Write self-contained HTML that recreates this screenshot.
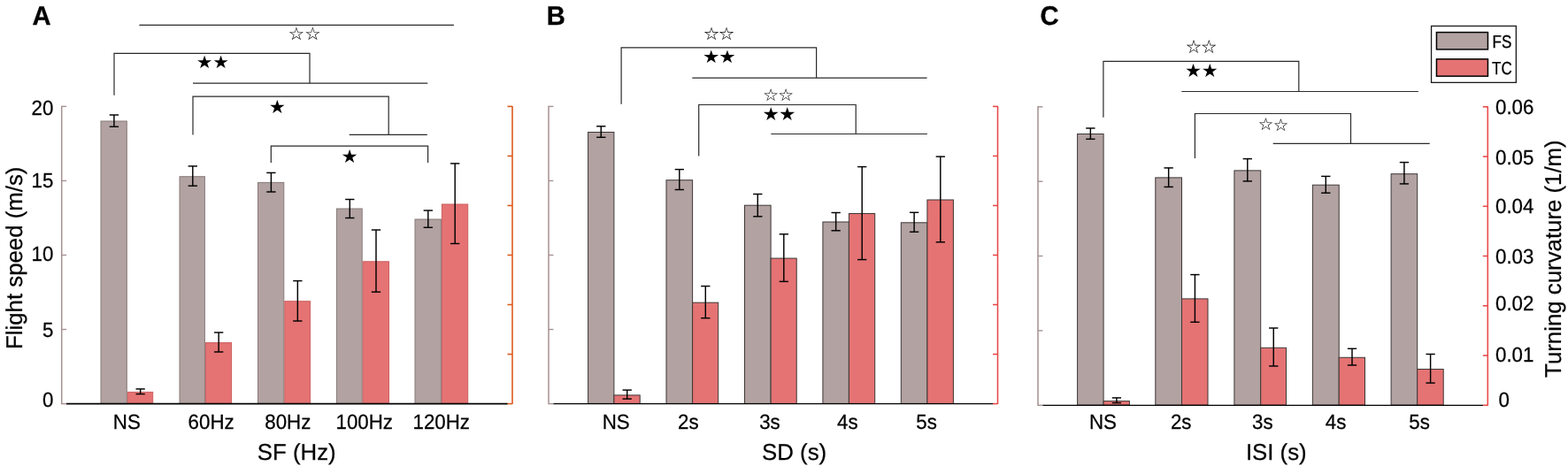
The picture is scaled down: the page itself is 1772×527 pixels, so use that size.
<!DOCTYPE html>
<html lang="en"><head><meta charset="utf-8"><title>Flight speed and turning curvature</title>
<style>html,body{margin:0;padding:0;background:#fff;}body{width:1772px;height:527px;overflow:hidden;}svg{display:block;}text{font-family:"Liberation Sans",sans-serif;fill:#000;text-rendering:geometricPrecision;}.st{font-family:"Noto Sans CJK JP","DejaVu Sans",sans-serif;}</style>
</head><body>
<svg width="1772" height="527" viewBox="0 0 1772 527">
<rect x="0" y="0" width="1772" height="527" fill="#ffffff"/>
<rect x="114.00" y="137.00" width="29.30" height="319.40" fill="#b2a2a1" stroke="#867b7a" stroke-width="1"/>
<rect x="144.30" y="443.40" width="28.40" height="13.00" fill="#e57373" stroke="#cc5e5e" stroke-width="1"/>
<rect x="203.00" y="199.70" width="28.40" height="256.70" fill="#b2a2a1" stroke="#867b7a" stroke-width="1"/>
<rect x="232.40" y="387.60" width="29.20" height="68.80" fill="#e57373" stroke="#cc5e5e" stroke-width="1"/>
<rect x="291.50" y="206.40" width="29.30" height="250.00" fill="#b2a2a1" stroke="#867b7a" stroke-width="1"/>
<rect x="321.80" y="340.70" width="28.80" height="115.70" fill="#e57373" stroke="#cc5e5e" stroke-width="1"/>
<rect x="380.40" y="236.00" width="28.80" height="220.40" fill="#b2a2a1" stroke="#867b7a" stroke-width="1"/>
<rect x="410.20" y="295.80" width="29.30" height="160.60" fill="#e57373" stroke="#cc5e5e" stroke-width="1"/>
<rect x="469.00" y="248.00" width="29.40" height="208.40" fill="#b2a2a1" stroke="#867b7a" stroke-width="1"/>
<rect x="499.40" y="231.00" width="29.30" height="225.40" fill="#e57373" stroke="#cc5e5e" stroke-width="1"/>
<line x1="128.90" y1="130.00" x2="128.90" y2="143.30" stroke="#000" stroke-width="1.45" />
<line x1="123.75" y1="130.00" x2="134.05" y2="130.00" stroke="#000" stroke-width="1.45" />
<line x1="123.75" y1="143.30" x2="134.05" y2="143.30" stroke="#000" stroke-width="1.45" />
<line x1="158.65" y1="439.90" x2="158.65" y2="445.60" stroke="#000" stroke-width="1.45" />
<line x1="153.50" y1="439.90" x2="163.80" y2="439.90" stroke="#000" stroke-width="1.45" />
<line x1="153.50" y1="445.60" x2="163.80" y2="445.60" stroke="#000" stroke-width="1.45" />
<line x1="217.80" y1="187.90" x2="217.80" y2="210.20" stroke="#000" stroke-width="1.45" />
<line x1="212.65" y1="187.90" x2="222.95" y2="187.90" stroke="#000" stroke-width="1.45" />
<line x1="212.65" y1="210.20" x2="222.95" y2="210.20" stroke="#000" stroke-width="1.45" />
<line x1="247.15" y1="376.00" x2="247.15" y2="398.00" stroke="#000" stroke-width="1.45" />
<line x1="242.00" y1="376.00" x2="252.30" y2="376.00" stroke="#000" stroke-width="1.45" />
<line x1="242.00" y1="398.00" x2="252.30" y2="398.00" stroke="#000" stroke-width="1.45" />
<line x1="306.40" y1="195.40" x2="306.40" y2="217.00" stroke="#000" stroke-width="1.45" />
<line x1="301.25" y1="195.40" x2="311.55" y2="195.40" stroke="#000" stroke-width="1.45" />
<line x1="301.25" y1="217.00" x2="311.55" y2="217.00" stroke="#000" stroke-width="1.45" />
<line x1="336.35" y1="317.60" x2="336.35" y2="363.00" stroke="#000" stroke-width="1.45" />
<line x1="331.20" y1="317.60" x2="341.50" y2="317.60" stroke="#000" stroke-width="1.45" />
<line x1="331.20" y1="363.00" x2="341.50" y2="363.00" stroke="#000" stroke-width="1.45" />
<line x1="395.30" y1="225.50" x2="395.30" y2="246.50" stroke="#000" stroke-width="1.45" />
<line x1="390.15" y1="225.50" x2="400.45" y2="225.50" stroke="#000" stroke-width="1.45" />
<line x1="390.15" y1="246.50" x2="400.45" y2="246.50" stroke="#000" stroke-width="1.45" />
<line x1="425.00" y1="260.00" x2="425.00" y2="330.20" stroke="#000" stroke-width="1.45" />
<line x1="419.85" y1="260.00" x2="430.15" y2="260.00" stroke="#000" stroke-width="1.45" />
<line x1="419.85" y1="330.20" x2="430.15" y2="330.20" stroke="#000" stroke-width="1.45" />
<line x1="483.80" y1="238.00" x2="483.80" y2="257.30" stroke="#000" stroke-width="1.45" />
<line x1="478.65" y1="238.00" x2="488.95" y2="238.00" stroke="#000" stroke-width="1.45" />
<line x1="478.65" y1="257.30" x2="488.95" y2="257.30" stroke="#000" stroke-width="1.45" />
<line x1="514.20" y1="184.90" x2="514.20" y2="275.50" stroke="#000" stroke-width="1.45" />
<line x1="509.05" y1="184.90" x2="519.35" y2="184.90" stroke="#000" stroke-width="1.45" />
<line x1="509.05" y1="275.50" x2="519.35" y2="275.50" stroke="#000" stroke-width="1.45" />
<line x1="74.90" y1="456.60" x2="573.80" y2="456.60" stroke="#000" stroke-width="1.9" />
<line x1="69.70" y1="119.70" x2="69.70" y2="457.30" stroke="#a69191" stroke-width="1.5" />
<line x1="69.70" y1="120.40" x2="75.10" y2="120.40" stroke="#a69191" stroke-width="1.4" />
<line x1="69.70" y1="204.45" x2="75.10" y2="204.45" stroke="#a69191" stroke-width="1.4" />
<line x1="69.70" y1="288.50" x2="75.10" y2="288.50" stroke="#a69191" stroke-width="1.4" />
<line x1="69.70" y1="372.55" x2="75.10" y2="372.55" stroke="#a69191" stroke-width="1.4" />
<line x1="69.70" y1="456.60" x2="75.10" y2="456.60" stroke="#a69191" stroke-width="1.4" />
<line x1="579.00" y1="119.90" x2="579.00" y2="457.10" stroke="#dc5a1e" stroke-width="1.6" />
<line x1="573.50" y1="120.40" x2="579.00" y2="120.40" stroke="#dc5a1e" stroke-width="1.6" />
<line x1="573.50" y1="176.43" x2="579.00" y2="176.43" stroke="#dc5a1e" stroke-width="1.6" />
<line x1="573.50" y1="232.47" x2="579.00" y2="232.47" stroke="#dc5a1e" stroke-width="1.6" />
<line x1="573.50" y1="288.50" x2="579.00" y2="288.50" stroke="#dc5a1e" stroke-width="1.6" />
<line x1="573.50" y1="344.53" x2="579.00" y2="344.53" stroke="#dc5a1e" stroke-width="1.6" />
<line x1="573.50" y1="400.57" x2="579.00" y2="400.57" stroke="#dc5a1e" stroke-width="1.6" />
<line x1="573.50" y1="456.60" x2="579.00" y2="456.60" stroke="#dc5a1e" stroke-width="1.6" />
<text transform="matrix(1 0.0003 0 1.05 127.80 485.10)" font-size="22.3" stroke="#000" stroke-width="0.25">NS</text>
<text transform="matrix(1 0.0003 0 1.05 212.60 485.10)" font-size="22.3" stroke="#000" stroke-width="0.25">60Hz</text>
<text transform="matrix(1 0.0003 0 1.05 299.30 485.10)" font-size="22.3" stroke="#000" stroke-width="0.25">80Hz</text>
<text transform="matrix(1 0.0003 0 1.05 379.50 485.10)" font-size="22.3" stroke="#000" stroke-width="0.25">100Hz</text>
<text transform="matrix(1 0.0003 0 1.05 466.50 485.10)" font-size="22.3" stroke="#000" stroke-width="0.25">120Hz</text>
<text transform="matrix(1 0.0003 0 1.0 290.80 519.50)" font-size="25.8" stroke="#000" stroke-width="0.25">SF (Hz)</text>
<text transform="matrix(1 0.0003 0 1.03 36.50 28.10)" font-size="29.2" font-weight="bold" stroke="#000" stroke-width="0.3">A</text>
<rect x="664.60" y="149.50" width="29.30" height="306.90" fill="#b2a2a1" stroke="#3c3737" stroke-width="1"/>
<rect x="693.90" y="446.90" width="29.30" height="9.50" fill="#e57373" stroke="#3c3737" stroke-width="1"/>
<rect x="753.00" y="203.70" width="29.60" height="252.70" fill="#b2a2a1" stroke="#3c3737" stroke-width="1"/>
<rect x="782.60" y="342.20" width="29.10" height="114.20" fill="#e57373" stroke="#3c3737" stroke-width="1"/>
<rect x="841.50" y="232.20" width="29.60" height="224.20" fill="#b2a2a1" stroke="#3c3737" stroke-width="1"/>
<rect x="871.10" y="292.10" width="29.10" height="164.30" fill="#e57373" stroke="#3c3737" stroke-width="1"/>
<rect x="929.90" y="251.00" width="29.50" height="205.40" fill="#b2a2a1" stroke="#3c3737" stroke-width="1"/>
<rect x="959.40" y="241.50" width="29.30" height="214.90" fill="#e57373" stroke="#3c3737" stroke-width="1"/>
<rect x="1018.30" y="251.80" width="29.60" height="204.60" fill="#b2a2a1" stroke="#3c3737" stroke-width="1"/>
<rect x="1047.90" y="226.00" width="29.50" height="230.40" fill="#e57373" stroke="#3c3737" stroke-width="1"/>
<line x1="679.25" y1="142.80" x2="679.25" y2="155.30" stroke="#000" stroke-width="1.45" />
<line x1="674.10" y1="142.80" x2="684.40" y2="142.80" stroke="#000" stroke-width="1.45" />
<line x1="674.10" y1="155.30" x2="684.40" y2="155.30" stroke="#000" stroke-width="1.45" />
<line x1="708.70" y1="441.10" x2="708.70" y2="451.10" stroke="#000" stroke-width="1.45" />
<line x1="703.55" y1="441.10" x2="713.85" y2="441.10" stroke="#000" stroke-width="1.45" />
<line x1="703.55" y1="451.10" x2="713.85" y2="451.10" stroke="#000" stroke-width="1.45" />
<line x1="767.80" y1="191.60" x2="767.80" y2="214.50" stroke="#000" stroke-width="1.45" />
<line x1="762.65" y1="191.60" x2="772.95" y2="191.60" stroke="#000" stroke-width="1.45" />
<line x1="762.65" y1="214.50" x2="772.95" y2="214.50" stroke="#000" stroke-width="1.45" />
<line x1="797.30" y1="323.60" x2="797.30" y2="359.70" stroke="#000" stroke-width="1.45" />
<line x1="792.15" y1="323.60" x2="802.45" y2="323.60" stroke="#000" stroke-width="1.45" />
<line x1="792.15" y1="359.70" x2="802.45" y2="359.70" stroke="#000" stroke-width="1.45" />
<line x1="856.30" y1="219.50" x2="856.30" y2="244.80" stroke="#000" stroke-width="1.45" />
<line x1="851.15" y1="219.50" x2="861.45" y2="219.50" stroke="#000" stroke-width="1.45" />
<line x1="851.15" y1="244.80" x2="861.45" y2="244.80" stroke="#000" stroke-width="1.45" />
<line x1="885.80" y1="264.80" x2="885.80" y2="318.40" stroke="#000" stroke-width="1.45" />
<line x1="880.65" y1="264.80" x2="890.95" y2="264.80" stroke="#000" stroke-width="1.45" />
<line x1="880.65" y1="318.40" x2="890.95" y2="318.40" stroke="#000" stroke-width="1.45" />
<line x1="944.65" y1="240.50" x2="944.65" y2="260.80" stroke="#000" stroke-width="1.45" />
<line x1="939.50" y1="240.50" x2="949.80" y2="240.50" stroke="#000" stroke-width="1.45" />
<line x1="939.50" y1="260.80" x2="949.80" y2="260.80" stroke="#000" stroke-width="1.45" />
<line x1="974.20" y1="188.60" x2="974.20" y2="293.60" stroke="#000" stroke-width="1.45" />
<line x1="969.05" y1="188.60" x2="979.35" y2="188.60" stroke="#000" stroke-width="1.45" />
<line x1="969.05" y1="293.60" x2="979.35" y2="293.60" stroke="#000" stroke-width="1.45" />
<line x1="1033.10" y1="240.30" x2="1033.10" y2="262.30" stroke="#000" stroke-width="1.45" />
<line x1="1027.95" y1="240.30" x2="1038.25" y2="240.30" stroke="#000" stroke-width="1.45" />
<line x1="1027.95" y1="262.30" x2="1038.25" y2="262.30" stroke="#000" stroke-width="1.45" />
<line x1="1062.80" y1="177.10" x2="1062.80" y2="273.80" stroke="#000" stroke-width="1.45" />
<line x1="1057.65" y1="177.10" x2="1067.95" y2="177.10" stroke="#000" stroke-width="1.45" />
<line x1="1057.65" y1="273.80" x2="1067.95" y2="273.80" stroke="#000" stroke-width="1.45" />
<line x1="625.20" y1="456.60" x2="1122.30" y2="456.60" stroke="#000" stroke-width="1.4" />
<line x1="620.00" y1="119.70" x2="620.00" y2="457.30" stroke="#a69191" stroke-width="1.5" />
<line x1="620.00" y1="120.40" x2="625.40" y2="120.40" stroke="#a69191" stroke-width="1.4" />
<line x1="620.00" y1="204.45" x2="625.40" y2="204.45" stroke="#a69191" stroke-width="1.4" />
<line x1="620.00" y1="288.50" x2="625.40" y2="288.50" stroke="#a69191" stroke-width="1.4" />
<line x1="620.00" y1="372.55" x2="625.40" y2="372.55" stroke="#a69191" stroke-width="1.4" />
<line x1="620.00" y1="456.60" x2="625.40" y2="456.60" stroke="#a69191" stroke-width="1.4" />
<line x1="1127.50" y1="119.90" x2="1127.50" y2="457.10" stroke="#e84848" stroke-width="1.55" />
<line x1="1122.00" y1="120.40" x2="1127.50" y2="120.40" stroke="#e84848" stroke-width="1.55" />
<line x1="1122.00" y1="176.43" x2="1127.50" y2="176.43" stroke="#e84848" stroke-width="1.55" />
<line x1="1122.00" y1="232.47" x2="1127.50" y2="232.47" stroke="#e84848" stroke-width="1.55" />
<line x1="1122.00" y1="288.50" x2="1127.50" y2="288.50" stroke="#e84848" stroke-width="1.55" />
<line x1="1122.00" y1="344.53" x2="1127.50" y2="344.53" stroke="#e84848" stroke-width="1.55" />
<line x1="1122.00" y1="400.57" x2="1127.50" y2="400.57" stroke="#e84848" stroke-width="1.55" />
<line x1="1122.00" y1="456.60" x2="1127.50" y2="456.60" stroke="#e84848" stroke-width="1.55" />
<text transform="matrix(1 0.0003 0 1.05 680.70 485.10)" font-size="22.3" stroke="#000" stroke-width="0.25">NS</text>
<text transform="matrix(1 0.0003 0 1.05 766.00 485.10)" font-size="22.3" stroke="#000" stroke-width="0.25">2s</text>
<text transform="matrix(1 0.0003 0 1.05 858.20 485.10)" font-size="22.3" stroke="#000" stroke-width="0.25">3s</text>
<text transform="matrix(1 0.0003 0 1.05 946.10 485.10)" font-size="22.3" stroke="#000" stroke-width="0.25">4s</text>
<text transform="matrix(1 0.0003 0 1.05 1035.30 485.10)" font-size="22.3" stroke="#000" stroke-width="0.25">5s</text>
<text transform="matrix(1 0.0003 0 1.0 861.10 519.50)" font-size="25.8" stroke="#000" stroke-width="0.25">SD (s)</text>
<text transform="matrix(1 0.0003 0 1.03 617.80 28.10)" font-size="29.2" font-weight="bold" stroke="#000" stroke-width="0.3">B</text>
<rect x="1217.60" y="151.50" width="29.50" height="306.60" fill="#b2a2a1" stroke="#3c3737" stroke-width="1"/>
<rect x="1247.10" y="453.60" width="29.30" height="4.50" fill="#e57373" stroke="#3c3737" stroke-width="1"/>
<rect x="1305.80" y="200.90" width="29.70" height="257.20" fill="#b2a2a1" stroke="#3c3737" stroke-width="1"/>
<rect x="1335.50" y="337.90" width="29.50" height="120.20" fill="#e57373" stroke="#3c3737" stroke-width="1"/>
<rect x="1394.90" y="192.90" width="29.80" height="265.20" fill="#b2a2a1" stroke="#3c3737" stroke-width="1"/>
<rect x="1424.70" y="393.30" width="28.80" height="64.80" fill="#e57373" stroke="#3c3737" stroke-width="1"/>
<rect x="1483.40" y="209.20" width="29.80" height="248.90" fill="#b2a2a1" stroke="#3c3737" stroke-width="1"/>
<rect x="1513.20" y="404.30" width="29.30" height="53.80" fill="#e57373" stroke="#3c3737" stroke-width="1"/>
<rect x="1572.10" y="196.70" width="29.60" height="261.40" fill="#b2a2a1" stroke="#3c3737" stroke-width="1"/>
<rect x="1601.70" y="417.50" width="29.50" height="40.60" fill="#e57373" stroke="#3c3737" stroke-width="1"/>
<line x1="1232.35" y1="145.00" x2="1232.35" y2="157.30" stroke="#000" stroke-width="1.45" />
<line x1="1227.20" y1="145.00" x2="1237.50" y2="145.00" stroke="#000" stroke-width="1.45" />
<line x1="1227.20" y1="157.30" x2="1237.50" y2="157.30" stroke="#000" stroke-width="1.45" />
<line x1="1261.90" y1="449.90" x2="1261.90" y2="455.60" stroke="#000" stroke-width="1.45" />
<line x1="1256.75" y1="449.90" x2="1267.05" y2="449.90" stroke="#000" stroke-width="1.45" />
<line x1="1256.75" y1="455.60" x2="1267.05" y2="455.60" stroke="#000" stroke-width="1.45" />
<line x1="1320.65" y1="189.90" x2="1320.65" y2="211.40" stroke="#000" stroke-width="1.45" />
<line x1="1315.50" y1="189.90" x2="1325.80" y2="189.90" stroke="#000" stroke-width="1.45" />
<line x1="1315.50" y1="211.40" x2="1325.80" y2="211.40" stroke="#000" stroke-width="1.45" />
<line x1="1350.40" y1="310.60" x2="1350.40" y2="364.30" stroke="#000" stroke-width="1.45" />
<line x1="1345.25" y1="310.60" x2="1355.55" y2="310.60" stroke="#000" stroke-width="1.45" />
<line x1="1345.25" y1="364.30" x2="1355.55" y2="364.30" stroke="#000" stroke-width="1.45" />
<line x1="1409.80" y1="179.60" x2="1409.80" y2="204.90" stroke="#000" stroke-width="1.45" />
<line x1="1404.65" y1="179.60" x2="1414.95" y2="179.60" stroke="#000" stroke-width="1.45" />
<line x1="1404.65" y1="204.90" x2="1414.95" y2="204.90" stroke="#000" stroke-width="1.45" />
<line x1="1439.25" y1="371.00" x2="1439.25" y2="414.00" stroke="#000" stroke-width="1.45" />
<line x1="1434.10" y1="371.00" x2="1444.40" y2="371.00" stroke="#000" stroke-width="1.45" />
<line x1="1434.10" y1="414.00" x2="1444.40" y2="414.00" stroke="#000" stroke-width="1.45" />
<line x1="1498.30" y1="199.40" x2="1498.30" y2="218.20" stroke="#000" stroke-width="1.45" />
<line x1="1493.15" y1="199.40" x2="1503.45" y2="199.40" stroke="#000" stroke-width="1.45" />
<line x1="1493.15" y1="218.20" x2="1503.45" y2="218.20" stroke="#000" stroke-width="1.45" />
<line x1="1528.00" y1="394.30" x2="1528.00" y2="413.00" stroke="#000" stroke-width="1.45" />
<line x1="1522.85" y1="394.30" x2="1533.15" y2="394.30" stroke="#000" stroke-width="1.45" />
<line x1="1522.85" y1="413.00" x2="1533.15" y2="413.00" stroke="#000" stroke-width="1.45" />
<line x1="1586.90" y1="183.60" x2="1586.90" y2="207.90" stroke="#000" stroke-width="1.45" />
<line x1="1581.75" y1="183.60" x2="1592.05" y2="183.60" stroke="#000" stroke-width="1.45" />
<line x1="1581.75" y1="207.90" x2="1592.05" y2="207.90" stroke="#000" stroke-width="1.45" />
<line x1="1616.60" y1="400.50" x2="1616.60" y2="433.10" stroke="#000" stroke-width="1.45" />
<line x1="1611.45" y1="400.50" x2="1621.75" y2="400.50" stroke="#000" stroke-width="1.45" />
<line x1="1611.45" y1="433.10" x2="1621.75" y2="433.10" stroke="#000" stroke-width="1.45" />
<line x1="1178.20" y1="458.30" x2="1676.10" y2="458.30" stroke="#000" stroke-width="1.35" />
<line x1="1173.00" y1="120.10" x2="1173.00" y2="459.00" stroke="#a69191" stroke-width="1.5" />
<line x1="1173.00" y1="120.80" x2="1178.40" y2="120.80" stroke="#a69191" stroke-width="1.4" />
<line x1="1173.00" y1="205.18" x2="1178.40" y2="205.18" stroke="#a69191" stroke-width="1.4" />
<line x1="1173.00" y1="289.55" x2="1178.40" y2="289.55" stroke="#a69191" stroke-width="1.4" />
<line x1="1173.00" y1="373.93" x2="1178.40" y2="373.93" stroke="#a69191" stroke-width="1.4" />
<line x1="1173.00" y1="458.30" x2="1178.40" y2="458.30" stroke="#a69191" stroke-width="1.4" />
<line x1="1681.30" y1="120.30" x2="1681.30" y2="458.80" stroke="#e84848" stroke-width="1.55" />
<line x1="1675.80" y1="120.80" x2="1681.30" y2="120.80" stroke="#e84848" stroke-width="1.55" />
<line x1="1675.80" y1="177.05" x2="1681.30" y2="177.05" stroke="#e84848" stroke-width="1.55" />
<line x1="1675.80" y1="233.30" x2="1681.30" y2="233.30" stroke="#e84848" stroke-width="1.55" />
<line x1="1675.80" y1="289.55" x2="1681.30" y2="289.55" stroke="#e84848" stroke-width="1.55" />
<line x1="1675.80" y1="345.80" x2="1681.30" y2="345.80" stroke="#e84848" stroke-width="1.55" />
<line x1="1675.80" y1="402.05" x2="1681.30" y2="402.05" stroke="#e84848" stroke-width="1.55" />
<line x1="1675.80" y1="458.30" x2="1681.30" y2="458.30" stroke="#e84848" stroke-width="1.55" />
<text transform="matrix(1 0.0003 0 1.05 1231.00 485.10)" font-size="22.3" stroke="#000" stroke-width="0.25">NS</text>
<text transform="matrix(1 0.0003 0 1.05 1322.90 485.10)" font-size="22.3" stroke="#000" stroke-width="0.25">2s</text>
<text transform="matrix(1 0.0003 0 1.05 1415.10 485.10)" font-size="22.3" stroke="#000" stroke-width="0.25">3s</text>
<text transform="matrix(1 0.0003 0 1.05 1497.80 485.10)" font-size="22.3" stroke="#000" stroke-width="0.25">4s</text>
<text transform="matrix(1 0.0003 0 1.05 1592.30 485.10)" font-size="22.3" stroke="#000" stroke-width="0.25">5s</text>
<text transform="matrix(1 0.0003 0 1.0 1407.90 519.50)" font-size="25.8" stroke="#000" stroke-width="0.25">ISI (s)</text>
<text transform="matrix(1 0.0003 0 1.03 1175.50 28.10)" font-size="29.2" font-weight="bold" stroke="#000" stroke-width="0.3">C</text>
<text transform="matrix(1 0.0003 0 1.05 60.40 130.30)" font-size="22.3" text-anchor="end" stroke="#000" stroke-width="0.25">20</text>
<text transform="matrix(1 0.0003 0 1.05 60.40 212.50)" font-size="22.3" text-anchor="end" stroke="#000" stroke-width="0.25">15</text>
<text transform="matrix(1 0.0003 0 1.05 60.40 295.40)" font-size="22.3" text-anchor="end" stroke="#000" stroke-width="0.25">10</text>
<text transform="matrix(1 0.0003 0 1.05 60.40 381.50)" font-size="22.3" text-anchor="end" stroke="#000" stroke-width="0.25">5</text>
<text transform="matrix(1 0.0003 0 1.05 60.40 459.60)" font-size="22.3" text-anchor="end" stroke="#000" stroke-width="0.25">0</text>
<text transform="matrix(1 0.0003 0 1.05 1690.00 128.60)" font-size="22.3" stroke="#000" stroke-width="0.25">0.06</text>
<text transform="matrix(1 0.0003 0 1.05 1690.00 186.20)" font-size="22.3" stroke="#000" stroke-width="0.25">0.05</text>
<text transform="matrix(1 0.0003 0 1.05 1690.00 241.30)" font-size="22.3" stroke="#000" stroke-width="0.25">0.04</text>
<text transform="matrix(1 0.0003 0 1.05 1690.00 298.20)" font-size="22.3" stroke="#000" stroke-width="0.25">0.03</text>
<text transform="matrix(1 0.0003 0 1.05 1690.00 351.10)" font-size="22.3" stroke="#000" stroke-width="0.25">0.02</text>
<text transform="matrix(1 0.0003 0 1.05 1690.00 408.80)" font-size="22.3" stroke="#000" stroke-width="0.25">0.01</text>
<text transform="matrix(1 0.0003 0 1.05 1693.60 459.60)" font-size="22.3" stroke="#000" stroke-width="0.25">0</text>
<text transform="matrix(0.0003 -1 1 0 24.6 291.8)" font-size="25.8" text-anchor="middle" stroke="#000" stroke-width="0.25">Flight speed (m/s)</text>
<text transform="matrix(0.0003 -1 1 0 1764 292.6)" font-size="25.8" text-anchor="middle" stroke="#000" stroke-width="0.25">Turning curvature (1/m)</text>
<line x1="157.40" y1="28.30" x2="512.90" y2="28.30" stroke="#2a2a2a" stroke-width="1.2" />
<polyline points="129.00,107.70 129.00,60.40 350.00,60.40 350.00,94.20" fill="none" stroke="#2a2a2a" stroke-width="1.2" stroke-linejoin="miter"/>
<line x1="218.00" y1="94.20" x2="483.30" y2="94.20" stroke="#2a2a2a" stroke-width="1.2" />
<polyline points="218.00,152.50 218.00,109.10 439.20,109.10 439.20,152.30" fill="none" stroke="#2a2a2a" stroke-width="1.2" stroke-linejoin="miter"/>
<line x1="394.70" y1="152.30" x2="482.80" y2="152.30" stroke="#2a2a2a" stroke-width="1.2" />
<polyline points="306.30,183.90 306.30,165.20 483.60,165.20 483.60,183.90" fill="none" stroke="#2a2a2a" stroke-width="1.2" stroke-linejoin="miter"/>
<polyline points="702.10,117.80 702.10,53.90 922.60,53.90 922.60,88.20" fill="none" stroke="#2a2a2a" stroke-width="1.2" stroke-linejoin="miter"/>
<line x1="782.30" y1="88.20" x2="1047.60" y2="88.20" stroke="#2a2a2a" stroke-width="1.2" />
<polyline points="789.70,176.40 789.70,118.50 967.20,118.50 967.20,151.50" fill="none" stroke="#2a2a2a" stroke-width="1.2" stroke-linejoin="miter"/>
<line x1="871.30" y1="151.50" x2="1047.90" y2="151.50" stroke="#2a2a2a" stroke-width="1.2" />
<polyline points="1246.90,132.80 1246.90,69.40 1467.80,69.40 1467.80,103.50" fill="none" stroke="#2a2a2a" stroke-width="1.2" stroke-linejoin="miter"/>
<line x1="1335.30" y1="103.50" x2="1602.90" y2="103.50" stroke="#2a2a2a" stroke-width="1.2" />
<polyline points="1350.40,178.90 1350.40,128.50 1526.50,128.50 1526.50,162.30" fill="none" stroke="#2a2a2a" stroke-width="1.2" stroke-linejoin="miter"/>
<line x1="1438.70" y1="162.30" x2="1615.70" y2="162.30" stroke="#2a2a2a" stroke-width="1.2" />
<text class="st" transform="matrix(1.07 0.0003 0 1 344.10 44.00)" x="-16.74" y="0" font-size="16.2" letter-spacing="1.09">☆☆</text>
<text class="st" transform="matrix(1.07 0.0003 0 1 240.40 76.00)" x="-16.65" y="0" font-size="16.1" letter-spacing="1.10">★★</text>
<text class="st" transform="matrix(1.04 0.0003 0 1 313.25 127.40)" x="-8.50" y="0" font-size="17.0" letter-spacing="0.79">★</text>
<text class="st" transform="matrix(1.04 0.0003 0 1 395.15 183.00)" x="-8.50" y="0" font-size="17.0" letter-spacing="0.79">★</text>
<text class="st" transform="matrix(1.05 0.0003 0 1 812.50 44.00)" x="-16.20" y="0" font-size="16.3" letter-spacing="-0.20">☆☆</text>
<text class="st" transform="matrix(1.07 0.0003 0 1 812.75 70.00)" x="-16.65" y="0" font-size="16.3" letter-spacing="0.71">★★</text>
<text class="st" transform="matrix(1.05 0.0003 0 1 879.50 112.90)" x="-15.80" y="0" font-size="15.4" letter-spacing="0.79">☆☆</text>
<text class="st" transform="matrix(1.04 0.0003 0 1 880.45 134.60)" x="-17.29" y="0" font-size="16.8" letter-spacing="0.99">★★</text>
<text class="st" transform="matrix(1.0 0.0003 0 1 1357.65 59.40)" x="-17.10" y="0" font-size="17.0" letter-spacing="0.20">☆☆</text>
<text class="st" transform="matrix(1.02 0.0003 0 1 1357.80 86.30)" x="-17.82" y="0" font-size="17.2" letter-spacing="1.23">★★</text>
<text class="st" transform="matrix(1.05 0.0003 0 1 1438.95 146.50)" x="-15.99" y="0" font-size="15.7" letter-spacing="0.59">☆☆</text>
<rect x="1617.55" y="29.45" width="95.80" height="63.90" fill="#fff" stroke="#1a1a1a" stroke-width="1.3"/>
<rect x="1623.45" y="36.55" width="58.00" height="19.30" fill="#b2a2a1" stroke="#000" stroke-width="1.5"/>
<rect x="1623.45" y="66.85" width="58.00" height="19.30" fill="#e57373" stroke="#000" stroke-width="1.5"/>
<text transform="matrix(0.84 0.0003 0 1.0 1686.6 54.0)" font-size="20.3" stroke="#000" stroke-width="0.3">FS</text>
<text transform="matrix(0.84 0.0003 0 1.0 1686.0 84.3)" font-size="20.3" stroke="#000" stroke-width="0.3">TC</text>
</svg>
</body></html>
